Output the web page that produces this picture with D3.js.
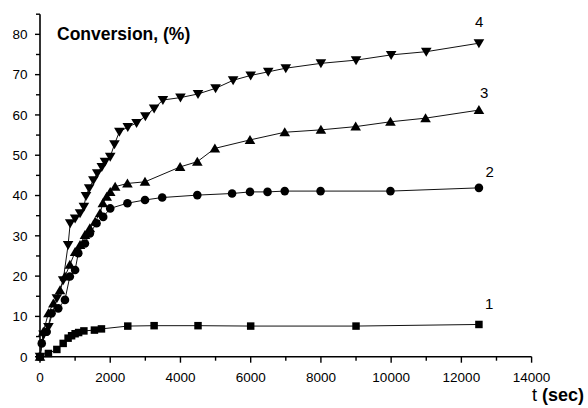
<!DOCTYPE html>
<html><head><meta charset="utf-8">
<script src="https://cdn.jsdelivr.net/npm/d3@7"></script>
<style>body{margin:0;background:#fff}svg{display:block}text{font-family:"Liberation Sans",Arial,sans-serif;fill:#000}</style>
</head><body><svg id="c" width="588" height="408"></svg>
<script>
// Data: time (sec) and conversion (%)
const s1t = [0,240,480,660,800,900,1000,1100,1250,1550,1750,2500,3250,4500,6000,9000,12500];
const s1y = [0,0.8,1.8,3.3,4.6,5.2,5.7,6.0,6.4,6.6,6.9,7.6,7.7,7.7,7.6,7.6,8.0];
const s2t = [0,50,190,330,520,710,850,1000,1090,1280,1420,1610,1800,2000,2490,2990,3480,4480,5470,5980,6480,6970,7990,9980,12500];
const s2y = [0,3.3,6.2,10.8,12,14.1,19.9,21.5,25.7,28.1,30.6,33.1,34.7,36.8,38.1,38.9,39.5,40.1,40.5,40.9,40.9,41.1,41.1,41.1,41.9];
const s3t = [0,95,240,380,570,710,850,1000,1140,1280,1420,1570,1710,1790,1900,2000,2140,2490,2990,3990,4480,4980,5980,6970,8000,8990,9980,10980,12500];
const s3y = [0,6.2,10.8,13.2,16.5,19.9,22.8,26,27.7,30.2,31.9,33.5,35.6,38.1,39.7,40.9,42.2,43.0,43.4,47.1,48.4,51.7,53.8,55.7,56.3,57.1,58.3,59.2,61.2];
const s4t = [0,100,240,480,660,800,860,1000,1140,1250,1310,1400,1520,1630,1760,1850,2000,2120,2260,2500,2750,3000,3250,3500,4000,4500,5000,5500,6000,6500,7000,8000,9000,10000,11000,12500];
const s4y = [0,5.5,7.4,14.5,19,27.7,33.1,34.3,35.6,37.2,39.9,41.8,43.8,45.5,47.1,48.4,49.6,52.7,55.8,57,58,59.7,61.6,63.7,64.3,65.2,66.6,68.6,69.8,70.7,71.6,72.8,73.6,74.9,75.7,77.8];
const seriesNames = ["1","2","3","4"];
const xMajor = [0,2000,4000,6000,8000,10000,12000,14000];
const xMinor = [1000,3000,5000,7000,9000,11000,13000];
const yMajor = [0,10,20,30,40,50,60,70,80];
const yMinor = [5,15,25,35,45,55,65,75,85];

const svg = d3.select("#c");
const x = d3.scaleLinear().domain([0,14000]).range([40,531.6]);
const y = d3.scaleLinear().domain([0,85]).range([356.7,14.2]);
const ax = svg.append("g");

// axes lines
ax.append("line").attr("x1",x(0)).attr("x2",x(14000)).attr("y1",y(0)).attr("y2",y(0)).attr("stroke","#000").attr("stroke-width",1.6);
ax.append("line").attr("x1",x(0)).attr("x2",x(0)).attr("y1",y(0)).attr("y2",y(85)).attr("stroke","#000").attr("stroke-width",1.6);
// x ticks
ax.selectAll(".xt").data(xMajor).join("line").attr("x1",d=>x(d)).attr("x2",d=>x(d)).attr("y1",y(0)).attr("y2",y(0)+6).attr("stroke","#000").attr("stroke-width",1.4);
ax.selectAll(".xm").data(xMinor).join("line").attr("x1",d=>x(d)).attr("x2",d=>x(d)).attr("y1",y(0)).attr("y2",y(0)+4).attr("stroke","#000").attr("stroke-width",1.4);
ax.selectAll(".xl").data(xMajor).join("text").attr("x",d=>x(d)).attr("y",382).attr("text-anchor","middle").attr("font-size",13.5).text(d=>d);
// y ticks
ax.selectAll(".yt").data(yMajor).join("line").attr("x1",x(0)-5).attr("x2",x(0)).attr("y1",d=>y(d)).attr("y2",d=>y(d)).attr("stroke","#000").attr("stroke-width",1.4);
ax.selectAll(".ym").data(yMinor).join("line").attr("x1",x(0)-4).attr("x2",x(0)).attr("y1",d=>y(d)).attr("y2",d=>y(d)).attr("stroke","#000").attr("stroke-width",1.4);
ax.selectAll(".yl").data(yMajor).join("text").attr("x",27.5).attr("y",d=>y(d)+4.8).attr("text-anchor","end").attr("font-size",13.5).text(d=>d);

// titles
svg.append("text").attr("x",57).attr("y",40).attr("font-size",17.5).attr("font-weight","bold").text("Conversion, (%)");
const xt = svg.append("text").attr("x",532).attr("y",401).attr("font-size",18);
xt.append("tspan").text("t ");
xt.append("tspan").attr("font-weight","bold").text("(sec)");

// series
const data = [
  {t:s1t, v:s1y, m:"square"},
  {t:s2t, v:s2y, m:"circle"},
  {t:s3t, v:s3y, m:"up"},
  {t:s4t, v:s4y, m:"down"}
];
const line = d3.line().x(d=>x(d[0])).y(d=>y(d[1]));
const sym = {
  square: d3.symbol().type(d3.symbolSquare).size(56)(),
  circle: d3.symbol().type(d3.symbolCircle).size(58)(),
  up: "M0,-5L5.3,4L-5.3,4Z",
  down: "M0,5L5.3,-4L-5.3,-4Z"
};
data.forEach(s=>{
  const pts = s.t.map((t,i)=>[t,s.v[i]]);
  svg.append("path").attr("d",line(pts)).attr("fill","none").attr("stroke","#111").attr("stroke-width",1);
});
data.forEach(s=>{
  const pts = s.t.map((t,i)=>[t,s.v[i]]);
  svg.append("g").selectAll("path").data(pts).join("path")
    .attr("transform",d=>`translate(${x(d[0])},${y(d[1])})`)
    .attr("d",sym[s.m]).attr("fill","#000");
});

// series labels
const labPos = [[485,309],[485.5,176.7],[480,98.3],[475,26.7]];
svg.selectAll(".sl").data(seriesNames).join("text")
  .attr("x",(d,i)=>labPos[i][0]).attr("y",(d,i)=>labPos[i][1]).attr("font-size",15).text(d=>d);
</script></body></html>
